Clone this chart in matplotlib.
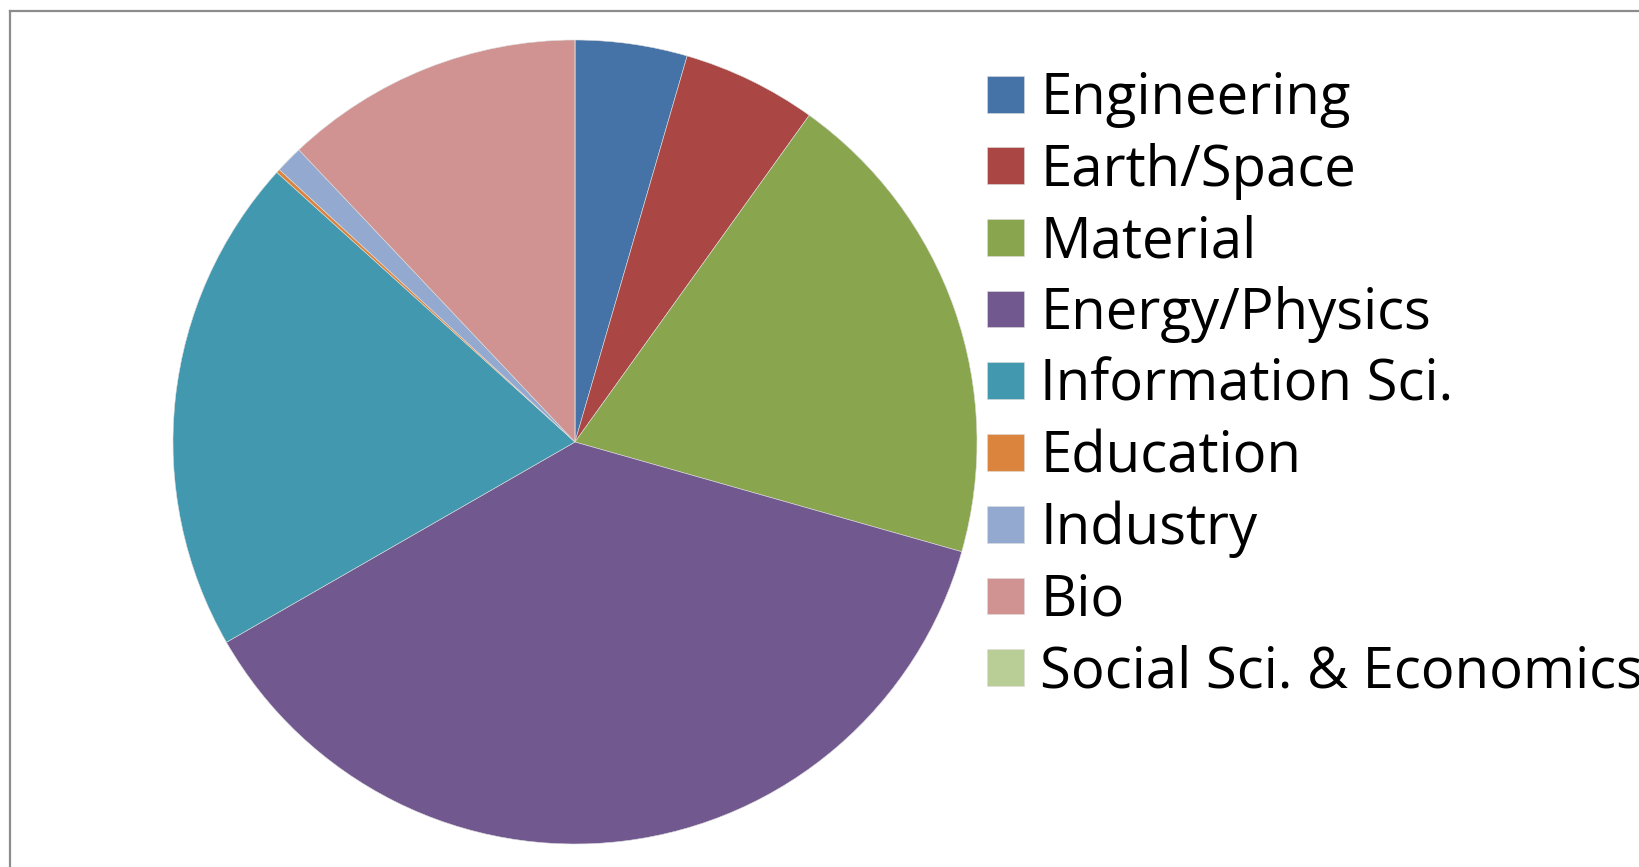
import matplotlib
matplotlib.use("Agg")
import matplotlib.pyplot as plt
from matplotlib.lines import Line2D

categories = ["Engineering", "Earth/Space", "Material", "Energy/Physics",
              "Information Sci.", "Education", "Industry", "Bio",
              "Social Sci. & Economics"]
values = [4.5, 5.4, 19.5, 37.3, 20.0, 0.15, 1.1, 12.05, 0.0]
colors = ["#4572A7", "#AA4643", "#89A54E", "#71588F", "#4198AF",
          "#DB843D", "#93A9CF", "#D19392", "#B9CD96"]

W, H = 1639, 867
fig = plt.figure(figsize=(W / 100, H / 100), dpi=100)
ax = fig.add_axes([0, 0, 1, 1])
ax.set_xlim(0, W)
ax.set_ylim(0, H)
ax.set_aspect("equal")
ax.axis("off")

wedges, _ = ax.pie(values, colors=colors, startangle=90, counterclock=False,
                   center=(575, H - 442), radius=402, frame=True,
                   wedgeprops=dict(linewidth=0.4, edgecolor="#dddddd"))
ax.set_xlim(0, W)
ax.set_ylim(0, H)
ax.axis("off")

fs = 40.5
leg = ax.legend(wedges, categories, loc="upper left",
                bbox_to_anchor=(987 / W, 1 - 71 / H),
                frameon=False,
                prop=dict(family="Open Sans", size=fs),
                handlelength=0.65, handleheight=0.63, handletextpad=0.3,
                labelspacing=0.26, borderaxespad=0, borderpad=0)

# border lines (top and left)
fig.add_artist(Line2D([10 / W, 10 / W], [0, 1 - 11 / H], color="#8c8c8c", lw=1.6,
                      transform=fig.transFigure))
fig.add_artist(Line2D([10 / W, 1], [1 - 11 / H, 1 - 11 / H], color="#8c8c8c", lw=1.6,
                      transform=fig.transFigure))

fig.savefig("out.png", dpi=100)
